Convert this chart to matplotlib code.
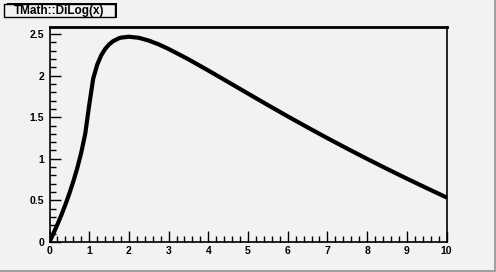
import matplotlib
matplotlib.use("Agg")
import matplotlib.pyplot as plt
from matplotlib.ticker import MultipleLocator
from matplotlib.patches import Rectangle

x_vals = [0.0, 0.1, 0.2, 0.3, 0.4, 0.5, 0.6, 0.7, 0.8, 0.9, 1.0,
          1.1, 1.2, 1.3, 1.4, 1.5, 1.6, 1.75, 1.8, 2.0, 2.25, 2.5, 2.75, 3.0, 3.5, 4.0,
          4.5, 5.0, 5.5, 6.0, 6.5, 7.0, 7.5, 8.0, 8.5, 9.0, 9.5, 10.0]
y_vals = [0.0, 0.103, 0.211, 0.326, 0.449, 0.582, 0.728, 0.889, 1.075, 1.300, 1.645,
          1.962, 2.129, 2.241, 2.319, 2.374, 2.413, 2.449, 2.456, 2.467, 2.454, 2.421, 2.375, 2.320, 2.196, 2.061,
          1.923, 1.784, 1.646, 1.510, 1.378, 1.248, 1.122, 0.999, 0.879, 0.762, 0.648, 0.536]
titre = "TMath::DiLog(x)"

W, H = 496, 272
bg = "#f2f2f2"
fig = plt.figure(figsize=(W / 100, H / 100), dpi=100, facecolor=bg)

# cadre du graphe (en pixels)
x0, x1 = 49.5, 446.5
y_top, y_bot = 26.5, 242.0
ax = fig.add_axes([x0 / W, 1 - y_bot / H, (x1 - x0) / W, (y_bot - y_top) / H])
ax.set_facecolor(bg)
ax.plot(x_vals, y_vals, color="black", lw=3, solid_joinstyle="round",
        solid_capstyle="round")
ax.set_xlim(0, 10)
ax.set_ylim(0, 2.59)

for s in ax.spines.values():
    s.set_linewidth(1.2)
ax.spines["top"].set_linewidth(2)

ax.xaxis.set_major_locator(MultipleLocator(1))
ax.xaxis.set_minor_locator(MultipleLocator(0.2))
ax.yaxis.set_major_locator(MultipleLocator(0.5))
ax.yaxis.set_minor_locator(MultipleLocator(0.1))
ax.tick_params(which="both", direction="in", top=False, right=False, width=1)
ax.tick_params(which="major", length=8)
ax.tick_params(which="minor", length=4)
ax.tick_params(axis="x", pad=3)
ax.tick_params(axis="y", pad=4)
ax.set_xticks(range(0, 11))
ax.set_xticklabels([str(i) for i in range(0, 11)])
ax.set_yticks([0, 0.5, 1, 1.5, 2, 2.5])
ax.set_yticklabels(["0", "0.5", "1", "1.5", "2", "2.5"])
for lab in ax.get_xticklabels() + ax.get_yticklabels():
    lab.set_fontfamily("Liberation Sans")
    lab.set_fontweight("bold")
    lab.set_fontsize(7.5)

# boîte du titre avec ombre
fig.patches.append(Rectangle((6.5 / W, 1 - 18 / H), 110.5 / W, 14.5 / H,
                             transform=fig.transFigure, facecolor="black",
                             edgecolor="none"))
fig.patches.append(Rectangle((4 / W, 1 - 16.5 / H), 110.5 / W, 13 / H,
                             transform=fig.transFigure, facecolor=bg,
                             edgecolor="black", lw=1))
fig.text(59.5 / W, 1 - 14 / H, titre, ha="center", va="baseline",
         fontfamily="Liberation Sans", fontweight="bold", fontsize=8.5)

# bord gris du canevas
fig.patches.append(Rectangle((0, 0), 1, 2.5 / H, transform=fig.transFigure,
                             facecolor="#a0a0a0", edgecolor="none"))
fig.patches.append(Rectangle(((W - 2.5) / W, 0), 2.5 / W, 1, transform=fig.transFigure,
                             facecolor="#a0a0a0", edgecolor="none"))

fig.savefig("out.png", dpi=100, facecolor=bg)
